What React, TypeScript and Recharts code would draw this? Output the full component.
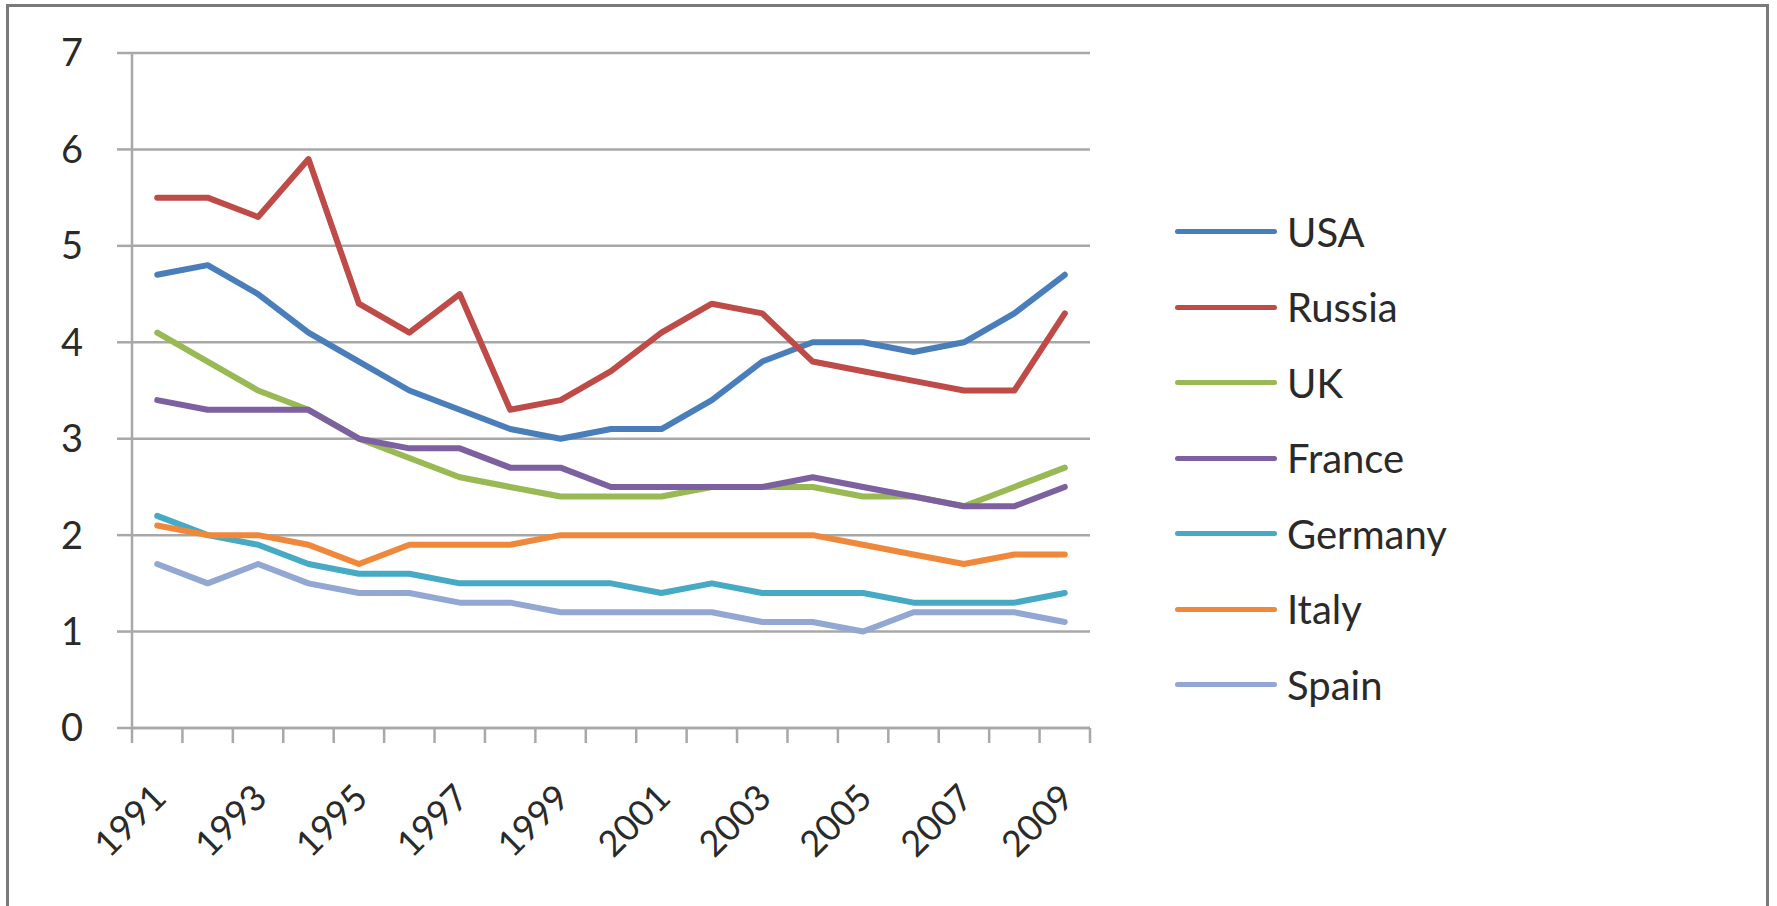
import React from 'react';
import { LineChart, Line, XAxis, YAxis, CartesianGrid, Legend } from 'recharts';

const years = [1991, 1992, 1993, 1994, 1995, 1996, 1997, 1998, 1999, 2000, 2001, 2002, 2003, 2004, 2005, 2006, 2007, 2008, 2009];

const usa = [4.7, 4.8, 4.5, 4.1, 3.8, 3.5, 3.3, 3.1, 3.0, 3.1, 3.1, 3.4, 3.8, 4.0, 4.0, 3.9, 4.0, 4.3, 4.7];
const russia = [5.5, 5.5, 5.3, 5.9, 4.4, 4.1, 4.5, 3.3, 3.4, 3.7, 4.1, 4.4, 4.3, 3.8, 3.7, 3.6, 3.5, 3.5, 4.3];
const uk = [4.1, 3.8, 3.5, 3.3, 3.0, 2.8, 2.6, 2.5, 2.4, 2.4, 2.4, 2.5, 2.5, 2.5, 2.4, 2.4, 2.3, 2.5, 2.7];
const france = [3.4, 3.3, 3.3, 3.3, 3.0, 2.9, 2.9, 2.7, 2.7, 2.5, 2.5, 2.5, 2.5, 2.6, 2.5, 2.4, 2.3, 2.3, 2.5];
const germany = [2.2, 2.0, 1.9, 1.7, 1.6, 1.6, 1.5, 1.5, 1.5, 1.5, 1.4, 1.5, 1.4, 1.4, 1.4, 1.3, 1.3, 1.3, 1.4];
const italy = [2.1, 2.0, 2.0, 1.9, 1.7, 1.9, 1.9, 1.9, 2.0, 2.0, 2.0, 2.0, 2.0, 2.0, 1.9, 1.8, 1.7, 1.8, 1.8];
const spain = [1.7, 1.5, 1.7, 1.5, 1.4, 1.4, 1.3, 1.3, 1.2, 1.2, 1.2, 1.2, 1.1, 1.1, 1.0, 1.2, 1.2, 1.2, 1.1];

const seriesNames = ['USA', 'Russia', 'UK', 'France', 'Germany', 'Italy', 'Spain'];
const seriesValues = [usa, russia, uk, france, germany, italy, spain];
const seriesColors = ['#4A7EBB', '#BE4B48', '#98B954', '#7D60A0', '#46AAC5', '#F0883C', '#93A7D3'];

const yTicks = [0, 1, 2, 3, 4, 5, 6, 7];
const labelYears = years.filter((_, i) => i % 2 === 0);
const boundaries = [...years.map((y) => y - 0.5), years[years.length - 1] + 0.5];

const data = years.map((year, i) => {
  const row: Record<string, number> = { year };
  seriesNames.forEach((name, k) => {
    row[name] = seriesValues[k][i];
  });
  return row;
});

const FONT = 'Lato, "Open Sans", sans-serif';
const TEXT = '#2a2a2a';
const GRID = '#A8A8A8';

function EmptyTick() {
  return <g />;
}

function YearTick(props: any) {
  const { x, y, payload } = props;
  const ax = x + 11;
  const ay = y + 52;
  return (
    <text
      x={ax}
      y={ay}
      textAnchor="end"
      transform={`rotate(-45, ${ax}, ${ay})`}
      fontSize={36}
      fontFamily={FONT}
      fill={TEXT}
    >
      {payload.value}
    </text>
  );
}

function LegendContent() {
  return (
    <div style={{ fontFamily: FONT }}>
      {seriesNames.map((name, k) => (
        <div key={name} style={{ display: 'flex', alignItems: 'center', height: 75.5 }}>
          <div style={{ width: 102, height: 5, borderRadius: 2.5, background: seriesColors[k] }} />
          <span style={{ marginLeft: 10, fontSize: 40, color: TEXT, lineHeight: 1 }}>{name}</span>
        </div>
      ))}
    </div>
  );
}

export default function App() {
  return (
    <div
      style={{
        position: 'absolute',
        left: 0,
        top: 0,
        width: 1777,
        height: 906,
        overflow: 'hidden',
        background: '#ffffff',
      }}
    >
      <div
        style={{
          position: 'absolute',
          left: 6,
          top: 4,
          width: 1757,
          height: 1000,
          border: '3px solid #7a7a7a',
          boxSizing: 'content-box',
        }}
      />
      <div style={{ position: 'absolute', left: 0, top: 0 }}>
        <LineChart
          width={1777}
          height={906}
          data={data}
          margin={{ top: 53, right: 687, bottom: 28, left: 0 }}
        >
          <CartesianGrid vertical={false} stroke={GRID} strokeWidth={2.5} />
          <XAxis
            type="number"
            dataKey="year"
            domain={[1990.5, 2009.5]}
            ticks={boundaries}
            interval={0}
            tick={<EmptyTick />}
            tickLine={{ stroke: GRID, strokeWidth: 2.5 }}
            tickSize={15}
            height={20}
            stroke={GRID}
            strokeWidth={2.5}
          />
          <XAxis
            xAxisId="l"
            type="number"
            dataKey="year"
            domain={[1990.5, 2009.5]}
            ticks={labelYears}
            interval={0}
            tickLine={false}
            axisLine={false}
            tickSize={0}
            tickMargin={0}
            tick={<YearTick />}
            height={130}
          />
          <YAxis
            domain={[0, 7]}
            ticks={yTicks}
            interval={0}
            width={132}
            tickSize={15}
            tickMargin={34}
            stroke={GRID}
            strokeWidth={2.5}
            tick={{ fontSize: 38, fontFamily: FONT, fill: TEXT }}
          />
          <Legend
            layout="vertical"
            align="center"
            verticalAlign="middle"
            wrapperStyle={{ left: 1175, top: 194, width: 400 }}
            content={<LegendContent />}
          />
          {seriesNames.map((name, k) => (
            <Line
              key={name}
              type="linear"
              dataKey={name}
              name={name}
              stroke={seriesColors[k]}
              strokeWidth={6}
              dot={false}
              isAnimationActive={false}
              strokeLinejoin="round"
              strokeLinecap="round"
            />
          ))}
        </LineChart>
      </div>
    </div>
  );
}
